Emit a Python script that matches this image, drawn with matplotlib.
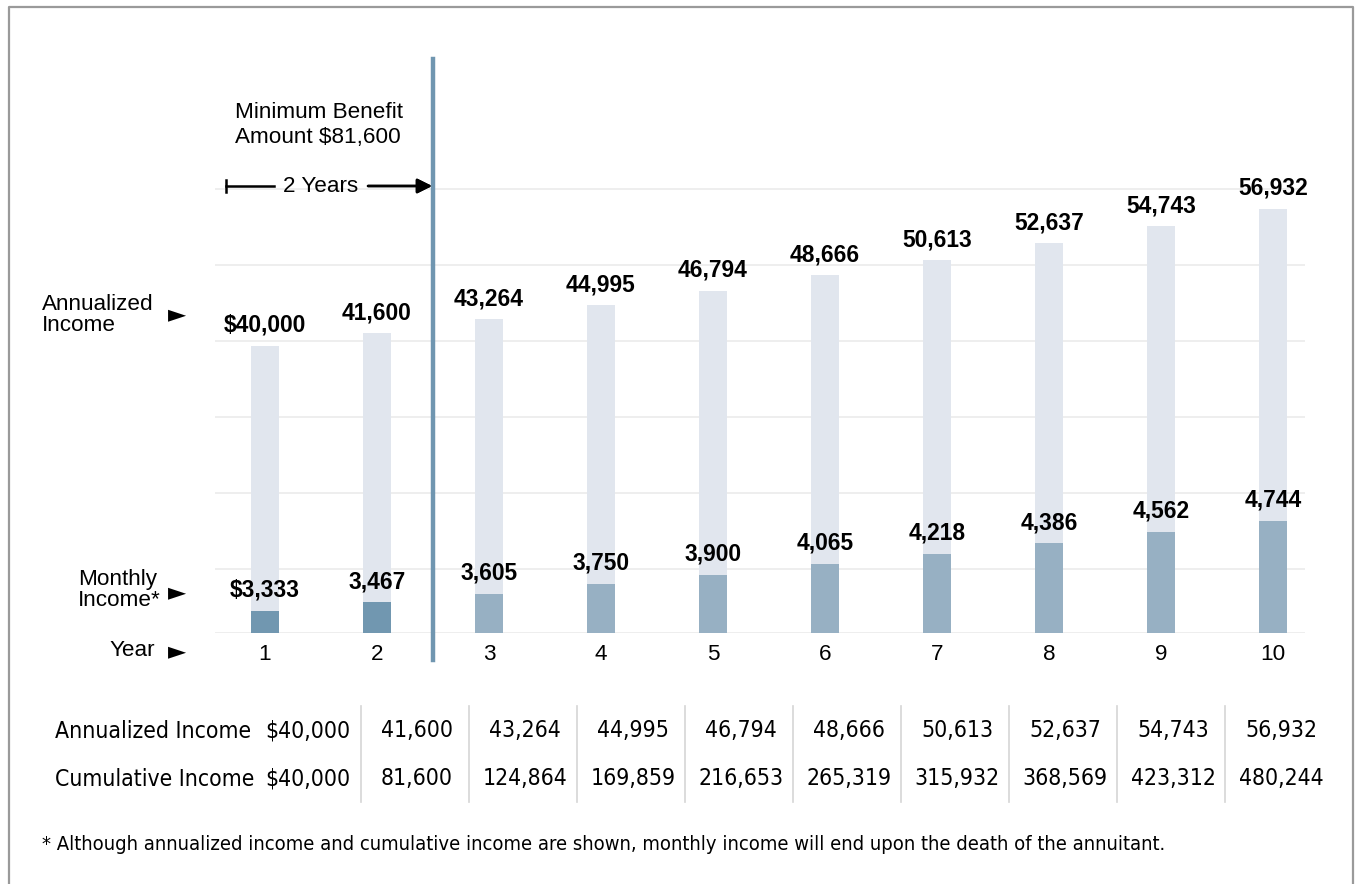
import matplotlib
matplotlib.use("Agg")
import matplotlib.pyplot as plt
from matplotlib.lines import Line2D
from matplotlib import font_manager as fm

# ---- data ----
years = [1, 2, 3, 4, 5, 6, 7, 8, 9, 10]
annual_income = [40000, 41600, 43264, 44995, 46794, 48666, 50613, 52637, 54743, 56932]
monthly_income = [3333, 3467, 3605, 3750, 3900, 4065, 4218, 4386, 4562, 4744]
cumulative_income = [40000, 81600, 124864, 169859, 216653, 265319, 315932, 368569, 423312, 480244]
min_benefit = 81600
min_years = 2
footnote = ("* Although annualized income and cumulative income are shown, "
            "monthly income will end upon the death of the annuitant.")

W, H = 1355, 884
SANS = ['Liberation Sans', 'DejaVu Sans']
FS = 16.2

# look for a condensed face for the table / footnote
narrow_file = None
for key in ["LiberationSansNarrow-Regular", "DejaVuSansCondensed.ttf", "RobotoCondensed-Regular",
            "OpenSans_Condensed-Regular", "OpenSansCondensed"]:
    for f in fm.fontManager.ttflist:
        if key in f.fname:
            narrow_file = f.fname
            break
    if narrow_file:
        break

def narrow_font(size):
    if narrow_file:
        return fm.FontProperties(fname=narrow_file, size=size)
    return fm.FontProperties(family="Roboto", size=size)

def fx(x):
    return x / W

def fy(y):
    return 1 - y / H

def money(v, first):
    return ("$" if first else "") + f"{v:,}"

fig = plt.figure(figsize=(W / 100, H / 100), dpi=100)

# chart axes (annual income scale), twin for monthly income
ax = fig.add_axes([fx(215), fy(633), (1305 - 215) / W, 574 / H])
ax2 = ax.twinx()
ax.set_xlim(0.554, 10.286)
ax.set_ylim(4500, 75400)
ax2.set_ylim(2990, 11940)
for a in (ax, ax2):
    a.set_facecolor("none")
    for s in a.spines.values():
        s.set_visible(False)
    a.set_yticks([])

# light gridlines
for f in [0, 0.1115, 0.2439, 0.3763, 0.5087, 0.6411, 0.7735]:
    ax.plot([0, 1], [f, f], transform=ax.transAxes, color="#ebebeb", lw=1.2, zorder=0)

bw = 0.25
ax.bar(years, annual_income, width=bw, color="#e1e6ee", zorder=1)
mcolors = ["#7197b0" if y <= min_years else "#97b0c3" for y in years]
ax2.bar(years, monthly_income, width=bw, color=mcolors, zorder=2)

for i, (y, a_v, m_v) in enumerate(zip(years, annual_income, monthly_income)):
    ax.annotate(money(a_v, i == 0), (y, a_v), xytext=(0, 14.5), textcoords="offset points",
                ha="center", va="center", fontsize=16.4, fontweight="bold", family=SANS)
    ax2.annotate(money(m_v, i == 0), (y, m_v), xytext=(0, 15), textcoords="offset points",
                 ha="center", va="center", fontsize=16.4, fontweight="bold", family=SANS)

ax.set_xticks(years)
ax.set_xticklabels([str(y) for y in years], fontsize=FS, family=SANS)
ax.tick_params(axis="x", length=0, pad=8)

# end of minimum benefit period
ax.axvline(min_years + 0.5, ymin=-27 / 574, ymax=1, color="#7096b0", lw=3.2, clip_on=False, zorder=3)

fig.text(fx(235), fy(112), "Minimum Benefit", fontsize=FS, family=SANS, va="center")
fig.text(fx(235), fy(138), f"Amount ${min_benefit:,}", fontsize=FS, family=SANS, va="center")
fig.text(fx(321), fy(186), f"{min_years} Years", fontsize=FS, family=SANS, ha="center", va="center")
fig.add_artist(Line2D([fx(226), fx(274)], [fy(186), fy(186)], color="black", lw=1.8))
fig.add_artist(Line2D([fx(226), fx(226)], [fy(180), fy(192)], color="black", lw=1.8))
fig.add_artist(plt.annotate("", xy=(fx(432), fy(186)), xytext=(fx(368), fy(186)),
                            xycoords="figure fraction", textcoords="figure fraction",
                            arrowprops=dict(arrowstyle="-|>", color="black", lw=1.8, mutation_scale=22,
                                            shrinkA=0, shrinkB=0)))

# left side labels
fig.text(fx(42), fy(315), "Annualized\nIncome", fontsize=FS, family=SANS, va="center", linespacing=0.95)
fig.text(fx(78), fy(590), "Monthly\nIncome*", fontsize=FS, family=SANS, va="center", linespacing=0.95)
fig.text(fx(155), fy(651), "Year", fontsize=FS, family=SANS, va="center", ha="right")
for yy in [314, 592, 651]:
    fig.text(fx(177), fy(yy), "\u25ba", fontsize=17, family=['DejaVu Sans'], va="center", ha="center")

# size the condensed font so texts span their widths in the reference
renderer = fig.canvas.get_renderer()
probe = fig.text(0, 0, footnote, fontproperties=narrow_font(16))
foot_size = min(16 * 1133 / probe.get_window_extent(renderer).width, 18)
probe.remove()
probe = fig.text(0, 0, "Annualized Income", fontproperties=narrow_font(16))
table_size = min(16 * 197 / probe.get_window_extent(renderer).width, 20)
probe.remove()

# table below chart
rows = [("Annualized Income", annual_income, 731), ("Cumulative Income", cumulative_income, 779)]
for label, vals, yy in rows:
    fig.text(fx(55), fy(yy), label, fontproperties=narrow_font(table_size), va="center")
    for i, v in enumerate(vals):
        if i == 0:
            fig.text(fx(350), fy(yy), money(v, True), fontproperties=narrow_font(table_size),
                     va="center", ha="right")
        else:
            fig.text(fx(361 + 108 * (i - 1) + 56), fy(yy), money(v, False),
                     fontproperties=narrow_font(table_size), va="center", ha="center")
for k in range(9):
    xs = fx(361 + 108 * k)
    fig.add_artist(Line2D([xs, xs], [fy(706), fy(802)], color="#d5d5d5", lw=1.2))

fig.text(fx(42), fy(845), footnote, fontproperties=narrow_font(foot_size), va="center")

# outer frame (left, top, right)
fig.add_artist(Line2D([fx(9), fx(9), fx(1353), fx(1353)], [0, fy(7), fy(7), 0], color="#9a9a9a", lw=1.6))

fig.savefig("out.png", dpi=100)
